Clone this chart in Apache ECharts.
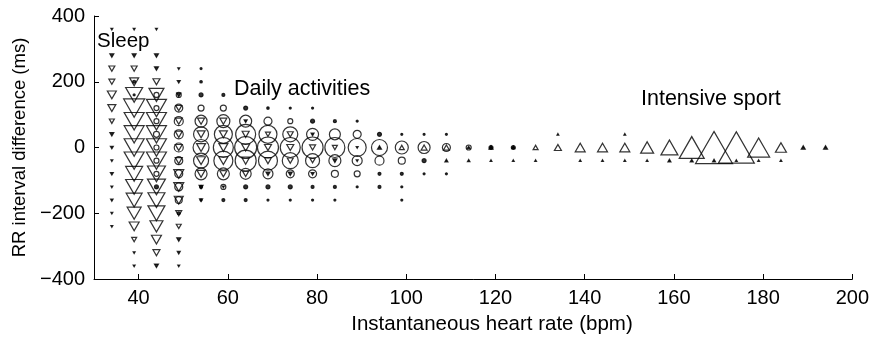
<!DOCTYPE html>
<html>
<head>
<meta charset="utf-8">
<script src="https://cdn.jsdelivr.net/npm/echarts@6/dist/echarts.min.js"></script>
<style>
html,body{margin:0;padding:0;background:#fff;}
#c{width:872px;height:338px;}
</style>
</head>
<body>
<div id="c"></div>
<script>
// RR-difference bins (ms), top to bottom
const rrBins = [360, 320, 280, 240, 200, 160, 120, 80, 40, 0, -40, -80, -120, -160, -200, -240, -280, -320, -360];

// Sleep (down triangles): heart-rate bins and relative weights per RR bin
const sleepHr = [34, 39, 44, 49, 54, 59, 64, 69, 74, 79, 84, 89];
const sleepW = [
  [2,0,4,6,6,9,8,5,4,3,2,3,2,2.5,2,2,0,0,0],
  [2,0,4,6,9,17,21,20,20,20,20,17,17,16,14,10,5,2,2],
  [2,0,4,4,7,15,20,20,20,20,20,18,18,17,17,13,10,7,4],
  [0,0,0,2,3,4,6,7,7,7,7,10,10,9,6,5,4,3,2],
  [0,0,0,0,0,0,0,7,8,9,9,8,4,3,0,0,0,0,0],
  [0,0,0,0,0,0,0,7,8,9,9,7,2,0,0,0,0,0,0],
  [0,0,0,0,0,0,0,3,7,8,8,6,0,0,0,0,0,0,0],
  [0,0,0,0,0,0,0,0,5,7,7,4,0,0,0,0,0,0,0],
  [0,0,0,0,0,0,0,0,6,7,6,4,0,0,0,0,0,0,0],
  [0,0,0,0,0,0,0,0,3,6,5,3,0,0,0,0,0,0,0],
  [0,0,0,0,0,0,0,0,0,5,4,0,0,0,0,0,0,0,0],
  [0,0,0,0,0,0,0,0,0,2,2,0,0,0,0,0,0,0,0]
];

// Daily activities (circles)
const dailyHr = [39, 44, 49, 54, 59, 64, 69, 74, 79, 84, 89, 94, 99, 104, 109, 114, 119, 124];
const dailyW = [
  [0,0,0,0,3,2,0,0,0,0,0,0,0,0,0,0,0,0,0],
  [0,0,0,0,0,5,5,5,6,5,5,5,4,0,0,0,0,0,0],
  [0,0,0,0,0,5,8,9,9,9,8,8,8,7,3,0,0,0,0],
  [0,0,0,2,2.5,4,6,12,15,16,15,12,3,2,0,0,0,0,0],
  [0,0,0,0,0,3,6,13,18,20,19,12,5,3,0,0,0,0,0],
  [0,0,0,0,0,0,4,12,20,22,21,11,4,3,0,0,0,0,0],
  [0,0,0,0,0,0,2.5,8,18,21,19,10,4,2,0,0,0,0,0],
  [0,0,0,0,0,0,2,5,15,20,16,8,4,2,0,0,0,0,0],
  [0,0,0,0,0,0,2,4,12,21,14,8,3,2,0,0,0,0,0],
  [0,0,0,0,0,0,0,3,11,20,12,7,3,2,0,0,0,0,0],
  [0,0,0,0,0,0,0,2,8,18,10,6,2,0,0,0,0,0,0],
  [0,0,0,0,0,0,0,0,4,16,9,3,3,0,0,0,0,0,0],
  [0,0,0,0,0,0,0,0,2,13,7,3,2,2,0,0,0,0,0],
  [0,0,0,0,0,0,0,0,2,12,4,2,0,0,0,0,0,0,0],
  [0,0,0,0,0,0,0,0,2,8,0,2,0,0,0,0,0,0,0],
  [0,0,0,0,0,0,0,0,0,5,0,0,0,0,0,0,0,0,0],
  [0,0,0,0,0,0,0,0,0,4,0,0,0,0,0,0,0,0,0],
  [0,0,0,0,0,0,0,0,0,4,0,0,0,0,0,0,0,0,0]
];

// Intensive sport (up triangles): weights at RR bins +40, 0, -40
const sportHr = [94, 99, 104, 109, 114, 119, 124, 129, 134, 139, 144, 149, 154, 159, 164, 169, 174, 179, 184, 189, 194];
const sportRr = [40, 0, -40];
const sportW = [
  [0,4,0],[0,5,0],[0,6,0],[0,6,3],[0,3,2.5],[0,4,2],[0,3,2],[0,5,2],
  [2,7,0],[0,10,2],[0,10,2],[2,10,2],[0,13,2],[0,17,3],[0,25,3],
  [0,37,3],[0,36,2],[0,22,2],[0,11,2],[0,4,0],[0,4,0]
];

const xTicks = [40, 60, 80, 100, 120, 140, 160, 180, 200];
const xTitle = 'Instantaneous heart rate (bpm)';
const yTitle = 'RR interval difference (ms)';

function gridPoints(hrs, rrs, w) {
  const out = [];
  hrs.forEach((hr, i) => {
    rrs.forEach((rr, j) => {
      const v = w[i][j];
      if (v > 0) {
        out.push({
          value: [hr, rr, v],
          itemStyle: v <= 4 ? { color: '#000' } : undefined
        });
      }
    });
  });
  return out;
}

const FONT = '"Liberation Sans", Arial, Helvetica, sans-serif';
const markStyle = { color: 'rgba(0,0,0,0)', borderColor: '#000', borderWidth: 1.2 };

const chart = echarts.init(document.getElementById('c'), null, { renderer: 'canvas' });
chart.setOption({
  animation: false,
  backgroundColor: '#fff',
  grid: { left: 94, right: 18, top: 16, bottom: 59, containLabel: false },
  xAxis: {
    type: 'value', min: 30, max: 200,
    axisLine: { show: true, onZero: false, lineStyle: { color: '#000', width: 1 } },
    axisTick: { show: true, inside: true, length: 5, customValues: xTicks, lineStyle: { color: '#000' } },
    axisLabel: { show: true, customValues: xTicks, margin: 9, fontFamily: FONT, fontSize: 20, color: '#000' },
    splitLine: { show: false }
  },
  yAxis: {
    type: 'value', min: -400, max: 400, interval: 200,
    name: yTitle, nameLocation: 'middle', nameGap: 62, nameRotate: 90,
    nameTextStyle: { fontFamily: FONT, fontSize: 18.5, color: '#000' },
    axisLine: { show: true, onZero: false, lineStyle: { color: '#000', width: 1 } },
    axisTick: { show: true, inside: true, length: 5, lineStyle: { color: '#000' } },
    axisLabel: { margin: 9, fontFamily: FONT, fontSize: 20, color: '#000',
      formatter: v => (v < 0 ? '\u2212' + Math.abs(v) : String(v)) },
    splitLine: { show: false }
  },
  series: [
    {
      name: 'Sleep', type: 'scatter', symbol: 'triangle', symbolRotate: 180,
      symbolSize: v => [v[2], v[2] * 0.87],
      itemStyle: markStyle, emphasis: { disabled: true },
      data: gridPoints(sleepHr, rrBins, sleepW)
    },
    {
      name: 'Daily activities', type: 'scatter', symbol: 'circle',
      symbolSize: v => v[2],
      itemStyle: markStyle, emphasis: { disabled: true },
      data: gridPoints(dailyHr, rrBins, dailyW)
    },
    {
      name: 'Intensive sport', type: 'scatter', symbol: 'triangle',
      symbolSize: v => [v[2], v[2] * 0.87],
      itemStyle: markStyle, emphasis: { disabled: true },
      data: gridPoints(sportHr, sportRr, sportW)
    }
  ],
  graphic: [
    { type: 'text', x: 492, y: 324, style: { text: xTitle, font: '20.5px ' + FONT, fill: '#000', align: 'center', verticalAlign: 'middle' } },
    { type: 'text', left: 97, top: 31, style: { text: 'Sleep', font: '20.5px ' + FONT, fill: '#000' } },
    { type: 'text', left: 234, top: 78, style: { text: 'Daily activities', font: '21.5px ' + FONT, fill: '#000' } },
    { type: 'text', left: 641, top: 88, style: { text: 'Intensive sport', font: '21.5px ' + FONT, fill: '#000' } }
  ]
});
</script>
</body>
</html>
